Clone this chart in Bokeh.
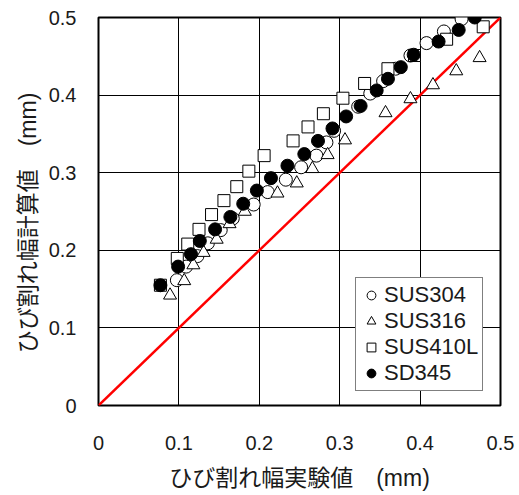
from bokeh.plotting import figure
from bokeh.models import Legend, LegendItem, FixedTicker, Range1d
from bokeh.embed import file_html
from bokeh.resources import INLINE

# Data (mm)
sus304_x = [0.0975, 0.109, 0.123, 0.136, 0.152, 0.167, 0.193, 0.2105, 0.233, 0.252, 0.271,
            0.2835, 0.293, 0.323, 0.338, 0.354, 0.3696, 0.388, 0.408, 0.4296, 0.4516]
sus304_y = [0.1615, 0.179, 0.1925, 0.209, 0.226, 0.241, 0.259, 0.275, 0.291, 0.307, 0.322,
            0.339, 0.354, 0.385, 0.402, 0.418, 0.434, 0.451, 0.467, 0.482, 0.498]

sus316_x = [0.089, 0.1066, 0.118, 0.1307, 0.147, 0.163, 0.182, 0.2226, 0.2466, 0.266, 0.285,
            0.3066, 0.357, 0.388, 0.416, 0.445, 0.474]
sus316_y = [0.142, 0.1606, 0.181, 0.197, 0.214, 0.234, 0.250, 0.2735, 0.2865, 0.305, 0.323,
            0.342, 0.377, 0.395, 0.413, 0.431, 0.448]

sus410l_x = [0.077, 0.098, 0.111, 0.125, 0.1406, 0.156, 0.172, 0.187, 0.206, 0.242, 0.2606,
             0.2797, 0.304, 0.331, 0.360, 0.393, 0.433, 0.4785]
sus410l_y = [0.155, 0.1895, 0.208, 0.227, 0.246, 0.264, 0.282, 0.302, 0.322, 0.341, 0.359,
             0.376, 0.396, 0.415, 0.434, 0.451, 0.472, 0.488]

sd345_x = [0.077, 0.099, 0.115, 0.126, 0.145, 0.164, 0.180, 0.197, 0.2145, 0.235, 0.256,
           0.273, 0.291, 0.308, 0.326, 0.346, 0.360, 0.376, 0.392, 0.423, 0.448, 0.468]
sd345_y = [0.155, 0.179, 0.195, 0.212, 0.227, 0.243, 0.260, 0.277, 0.293, 0.309, 0.324,
           0.341, 0.357, 0.3725, 0.386, 0.406, 0.421, 0.436, 0.452, 0.469, 0.484, 0.500]

ref_x = [0.0, 0.5]
ref_y = [0.0, 0.5]

ticks = [0, 0.1, 0.2, 0.3, 0.4, 0.5]
tick_labels = {0: "0", 0.1: "0.1", 0.2: "0.2", 0.3: "0.3", 0.4: "0.4", 0.5: "0.5"}

x_title = "ひび割れ幅実験値\u3000(mm)"
y_title = "ひび割れ幅計算値\u3000(mm)\u3000"

FONT = "Liberation Sans, Noto Sans CJK JP"

p = figure(width=519, height=495, output_backend="svg", toolbar_location=None,
           x_range=Range1d(0, 0.5), y_range=Range1d(0, 0.5),
           min_border_left=98, min_border_right=19, min_border_top=17, min_border_bottom=90)
p.background_fill_color = "white"
p.border_fill_color = "white"
p.outline_line_color = "black"
p.outline_line_width = 2

for ax in (p.xaxis[0], p.yaxis[0]):
    ax.ticker = FixedTicker(ticks=ticks)
    ax.major_label_overrides = tick_labels
    ax.major_tick_line_color = None
    ax.minor_tick_line_color = None
    ax.axis_line_color = None
    ax.major_label_text_font = FONT
    ax.major_label_text_font_size = "20px"
    ax.major_label_text_color = "#1a1a1a"
    ax.axis_label_text_font = FONT
    ax.axis_label_text_font_size = "23px"
    ax.axis_label_text_font_style = "normal"
    ax.axis_label_text_color = "#1a1a1a"

p.xaxis.axis_label = x_title
p.yaxis.axis_label = y_title
p.xaxis.major_label_standoff = 24
p.yaxis.major_label_standoff = 16
p.xaxis.axis_label_standoff = 12
p.yaxis.axis_label_standoff = 5

p.xgrid.ticker = FixedTicker(ticks=ticks)
p.ygrid.ticker = FixedTicker(ticks=ticks)
p.grid.grid_line_color = "black"
p.grid.grid_line_width = 1
p.grid.grid_line_alpha = 1

p.line(ref_x, ref_y, line_color="red", line_width=2.5)

r1 = p.scatter(sus304_x, sus304_y, marker="circle", size=13, fill_color="white",
               line_color="black", line_width=1)
r2 = p.scatter(sus316_x, sus316_y, marker="triangle", size=13, fill_color="white",
               line_color="black", line_width=1)
r3 = p.scatter(sus410l_x, sus410l_y, marker="square", size=12, fill_color="white",
               line_color="black", line_width=1)
r4 = p.scatter(sd345_x, sd345_y, marker="circle", size=13, fill_color="black",
               line_color="black", line_width=1)

legend = Legend(items=[
    LegendItem(label="SUS304", renderers=[r1]),
    LegendItem(label="SUS316", renderers=[r2]),
    LegendItem(label="SUS410L", renderers=[r3]),
    LegendItem(label="SD345", renderers=[r4]),
], location=(257, 14))
legend.label_text_font = FONT
legend.label_text_font_size = "22px"
legend.label_text_color = "#1a1a1a"
legend.glyph_height = 26
legend.glyph_width = 22
legend.label_height = 26
legend.spacing = 0
legend.padding = 4
legend.margin = 0
legend.label_standoff = 2
legend.border_line_color = "black"
legend.border_line_width = 1
legend.background_fill_color = "white"
legend.background_fill_alpha = 1
p.add_layout(legend, "center")

open("out.html", "w").write(file_html(p, INLINE))
